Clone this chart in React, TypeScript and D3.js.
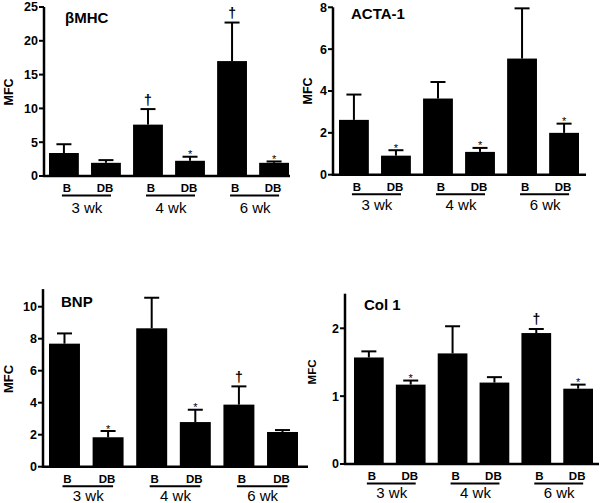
import React from "react";
import * as d3 from "d3";

// ---- data ----
const groups = ["3 wk", "4 wk", "6 wk"];
const conditions = ["B", "DB"];

const mhcMean = [3.4, 1.95, 7.6, 2.25, 17.0, 1.95];
const mhcSem = [1.3, 0.4, 2.3, 0.6, 5.7, 0.2];
const mhcMarks = ["", "", "†", "*", "†", "*"];
const mhcTicks = [0, 5, 10, 15, 20, 25];

const actaMean = [2.62, 0.91, 3.64, 1.09, 5.55, 2.0];
const actaSem = [1.21, 0.26, 0.79, 0.19, 2.4, 0.44];
const actaMarks = ["", "*", "", "*", "", "*"];
const actaTicks = [0, 2, 4, 6, 8];

const bnpMean = [7.69, 1.84, 8.65, 2.79, 3.88, 2.17];
const bnpSem = [0.64, 0.39, 1.91, 0.77, 1.14, 0.12];
const bnpMarks = ["", "*", "", "*", "†", ""];
const bnpTicks = [0, 2, 4, 6, 8, 10];

const colMean = [1.57, 1.17, 1.63, 1.2, 1.93, 1.11];
const colSem = [0.09, 0.06, 0.4, 0.08, 0.06, 0.06];
const colMarks = ["", "*", "", "", "†", "*"];
const colTicks = [0, 1, 2];

const FONT = "'Liberation Sans', Arial, sans-serif";

type PanelProps = {
  title: string;
  mean: number[];
  sem: number[];
  marks: string[];
  ticks: number[];
  axisX: number;
  y0: number;
  yMaxPx: number;
  dMax: number;
  axisTopVal: number;
  barsFrom: number;
  barsTo: number;
  axisEnd: number;
  titleX: number;
  titleY: number;
  mfcX: number;
  mfcY: number;
  mfcSize: number;
  wkDy: number;
};

function Panel(p: PanelProps) {
  const y = d3.scaleLinear().domain([0, p.dMax]).range([p.y0, p.yMaxPx]);
  const keys = d3.range(p.mean.length).map(String);
  const x = d3
    .scaleBand<string>()
    .domain(keys)
    .range([p.barsFrom, p.barsTo])
    .paddingInner(0.29)
    .paddingOuter(0);
  const bw = x.bandwidth();
  const cx = (i: number) => (x(String(i)) as number) + bw / 2;

  return (
    <g fontFamily={FONT}>
      {p.mean.map((m, i) => (
        <rect
          key={"b" + i}
          x={x(String(i))}
          y={y(m)}
          width={bw}
          height={p.y0 - y(m)}
          fill="#000"
        />
      ))}
      {p.mean.map((m, i) => {
        const top = y(m + p.sem[i]);
        return (
          <g key={"e" + i} stroke="#000" strokeWidth={2}>
            <line x1={cx(i)} x2={cx(i)} y1={y(m)} y2={top} />
            <line x1={cx(i) - 7.5} x2={cx(i) + 7.5} y1={top} y2={top} />
          </g>
        );
      })}
      {p.marks.map((mk, i) => {
        if (!mk) return null;
        const top = y(p.mean[i] + p.sem[i]);
        return mk === "*" ? (
          <text
            key={"m" + i}
            x={cx(i)}
            y={top + 1.5}
            textAnchor="middle"
            fontSize={11}
            fill="#000"
          >
            *
          </text>
        ) : (
          <text
            key={"m" + i}
            x={cx(i)}
            y={top - 4.5}
            textAnchor="middle"
            fontSize={14}
            fontWeight="bold"
            fill="#000"
          >
            †
          </text>
        );
      })}
      <line
        x1={p.axisX}
        x2={p.axisX}
        y1={p.y0 + 1}
        y2={y(p.axisTopVal)}
        stroke="#000"
        strokeWidth={2.5}
      />
      <line
        x1={p.axisX - 1}
        x2={p.axisEnd}
        y1={p.y0}
        y2={p.y0}
        stroke="#000"
        strokeWidth={2.5}
      />
      {p.ticks.map((t) => (
        <g key={"t" + t}>
          <line
            x1={p.axisX - 5}
            x2={p.axisX}
            y1={y(t)}
            y2={y(t)}
            stroke="#000"
            strokeWidth={2}
          />
          <text
            x={p.axisX - 6}
            y={y(t) + 4.4}
            textAnchor="end"
            fontSize={12.5}
            fontWeight="bold"
            fill="#000"
          >
            {t}
          </text>
        </g>
      ))}
      {groups.map((g, gi) => {
        const c1 = cx(gi * 2);
        const c2 = cx(gi * 2 + 1);
        return (
          <g key={"g" + gi}>
            <text
              x={c1 + 3}
              y={p.y0 + 16}
              textAnchor="middle"
              fontSize={11.5}
              fontWeight="bold"
              fill="#000"
            >
              {conditions[0]}
            </text>
            <text
              x={c2 - 1}
              y={p.y0 + 16}
              textAnchor="middle"
              fontSize={11.5}
              fontWeight="bold"
              fill="#000"
            >
              {conditions[1]}
            </text>
            <line
              x1={c1 - 2}
              x2={c2 + 5}
              y1={p.y0 + 19.5}
              y2={p.y0 + 19.5}
              stroke="#000"
              strokeWidth={2}
            />
            <text
              x={(c1 + c2) / 2 + 2}
              y={p.y0 + p.wkDy}
              textAnchor="middle"
              fontSize={15}
              fill="#000"
            >
              {g}
            </text>
          </g>
        );
      })}
      <text
        x={p.titleX}
        y={p.titleY}
        fontSize={15}
        fontWeight="bold"
        fill="#000"
      >
        {p.title}
      </text>
      <text
        transform={`translate(${p.mfcX},${p.mfcY}) rotate(-90)`}
        textAnchor="middle"
        fontSize={p.mfcSize}
        fontWeight="bold"
        fill="#000"
      >
        MFC
      </text>
    </g>
  );
}

export default function App() {
  return (
    <svg
      width={600}
      height={503}
      style={{ position: "absolute", left: 0, top: 0, background: "#fff" }}
    >
      <rect width={600} height={503} fill="#fff" />
      <Panel
        title="βMHC"
        mean={mhcMean}
        sem={mhcSem}
        marks={mhcMarks}
        ticks={mhcTicks}
        axisX={44}
        y0={176}
        yMaxPx={7}
        dMax={25}
        axisTopVal={25}
        barsFrom={49}
        barsTo={289}
        axisEnd={290}
        titleX={65}
        titleY={22.5}
        mfcX={13}
        mfcY={92}
        mfcSize={12.5}
        wkDy={37}
      />
      <Panel
        title="ACTA-1"
        mean={actaMean}
        sem={actaSem}
        marks={actaMarks}
        ticks={actaTicks}
        axisX={333}
        y0={174.7}
        yMaxPx={7.3}
        dMax={8}
        axisTopVal={8}
        barsFrom={339}
        barsTo={579}
        axisEnd={586}
        titleX={351}
        titleY={18.5}
        mfcX={312}
        mfcY={91}
        mfcSize={12.5}
        wkDy={35.5}
      />
      <Panel
        title="BNP"
        mean={bnpMean}
        sem={bnpSem}
        marks={bnpMarks}
        ticks={bnpTicks}
        axisX={43}
        y0={466.7}
        yMaxPx={306.7}
        dMax={10}
        axisTopVal={11.1}
        barsFrom={49}
        barsTo={298}
        axisEnd={308}
        titleX={61}
        titleY={307}
        mfcX={13}
        mfcY={379}
        mfcSize={13}
        wkDy={34}
      />
      <Panel
        title="Col 1"
        mean={colMean}
        sem={colSem}
        marks={colMarks}
        ticks={colTicks}
        axisX={345}
        y0={464}
        yMaxPx={328.3}
        dMax={2}
        axisTopVal={2.51}
        barsFrom={354}
        barsTo={593}
        axisEnd={599}
        titleX={364}
        titleY={310}
        mfcX={316}
        mfcY={372}
        mfcSize={11.5}
        wkDy={33.5}
      />
    </svg>
  );
}
